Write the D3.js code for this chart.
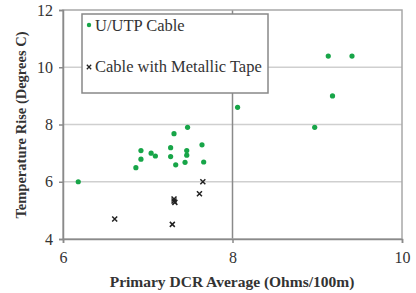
<!DOCTYPE html>
<html>
<head>
<meta charset="utf-8">
<script src="https://cdn.jsdelivr.net/npm/d3@7"></script>
<style>
  body { margin: 0; background: #fff; }
  svg text { font-family: "Liberation Serif", "Times New Roman", serif; }
</style>
</head>
<body>
<div id="chart"></div>
<script>
// data
var utpX = [6.18, 6.86, 6.92, 6.92, 7.04, 7.09, 7.27, 7.27, 7.31, 7.33, 7.44, 7.46, 7.46, 7.47, 7.64, 7.66, 8.06, 8.97, 9.13, 9.18, 9.41];
var utpY = [6.0, 6.49, 6.79, 7.09, 7.0, 6.9, 7.19, 6.88, 7.68, 6.59, 6.68, 6.93, 7.09, 7.9, 7.29, 6.69, 8.6, 7.9, 10.39, 9.0, 10.39];
var tapeX = [6.61, 7.29, 7.31, 7.31, 7.32, 7.61, 7.65];
var tapeY = [4.7, 4.51, 5.4, 5.33, 5.28, 5.58, 6.0];
var xTicks = [6, 8, 10];
var yTicks = [4, 6, 8, 10, 12];
var seriesNames = ["U/UTP Cable", "Cable with Metallic Tape"];

var width = 416, height = 293,
    margin = {top: 10, right: 14, bottom: 54, left: 63};

var svg = d3.select("#chart").append("svg")
  .attr("width", width)
  .attr("height", height);

var xScale = d3.scaleLinear().domain([6, 10]).range([margin.left, width - margin.right]);
var yScale = d3.scaleLinear().domain([4, 12]).range([height - margin.bottom, margin.top]);

// horizontal gridlines
svg.selectAll(".hgrid")
  .data(yTicks.filter(function (d) { return d > 4 && d < 12; }))
  .enter().append("line")
  .attr("x1", xScale(6)).attr("x2", xScale(10))
  .attr("y1", function (d) { return yScale(d); })
  .attr("y2", function (d) { return yScale(d); })
  .attr("stroke", "#cfcfcf").attr("stroke-width", 1.5);

// vertical gridline at 8
svg.append("line")
  .attr("x1", xScale(8)).attr("x2", xScale(8))
  .attr("y1", yScale(12)).attr("y2", yScale(4))
  .attr("stroke", "#8a8a8a").attr("stroke-width", 1.5);

// plot box
svg.append("rect")
  .attr("x", xScale(6)).attr("y", yScale(12))
  .attr("width", xScale(10) - xScale(6))
  .attr("height", yScale(4) - yScale(12))
  .attr("fill", "none").attr("stroke", "#a8a8a8").attr("stroke-width", 1.5);

// axes
var yAxis = svg.append("g")
  .attr("transform", "translate(" + margin.left + ",0)")
  .call(d3.axisLeft(yScale).tickValues(yTicks).tickFormat(d3.format("d")).tickSize(4).tickPadding(6));
var xAxis = svg.append("g")
  .attr("transform", "translate(0," + (height - margin.bottom) + ")")
  .call(d3.axisBottom(xScale).tickValues(xTicks).tickFormat(d3.format("d")).tickSize(4).tickPadding(9));

[xAxis, yAxis].forEach(function (a) {
  a.attr("font-family", null);
  a.select(".domain").attr("stroke", "#8a8a8a").attr("stroke-width", 1.5);
  a.selectAll(".tick line").attr("stroke", "#8a8a8a").attr("stroke-width", 1.5);
  a.selectAll(".tick text")
    .attr("fill", "#333")
    .style("font-size", "16px");
});

// axis titles
svg.append("text")
  .attr("x", 232).attr("y", 287)
  .attr("text-anchor", "middle")
  .attr("font-weight", "bold").attr("font-size", "15.5px").attr("fill", "#333")
  .text("Primary DCR Average (Ohms/100m)");

svg.append("text")
  .attr("transform", "translate(26," + 125 + ") rotate(-90)")
  .attr("text-anchor", "middle")
  .attr("font-weight", "bold").attr("font-size", "14.5px").attr("fill", "#333")
  .text("Temperature Rise (Degrees C)");

// points
var green = "#17a548";
svg.selectAll(".utp")
  .data(utpX.map(function (x, i) { return [x, utpY[i]]; }))
  .enter().append("circle")
  .attr("cx", function (d) { return xScale(d[0]); })
  .attr("cy", function (d) { return yScale(d[1]); })
  .attr("r", 2.6)
  .attr("fill", green);

var cross = d3.symbol().type(d3.symbolX).size(18);
svg.selectAll(".tape")
  .data(tapeX.map(function (x, i) { return [x, tapeY[i]]; }))
  .enter().append("path")
  .attr("transform", function (d) { return "translate(" + xScale(d[0]) + "," + yScale(d[1]) + ")"; })
  .attr("d", cross)
  .attr("fill", "none").attr("stroke", "#222").attr("stroke-width", 1.5);

// legend
var legend = svg.append("g");
legend.append("rect")
  .attr("x", 82).attr("y", 14).attr("width", 186).attr("height", 79)
  .attr("fill", "#fff").attr("stroke", "#888").attr("stroke-width", 1.5);
legend.append("circle").attr("cx", 89).attr("cy", 25).attr("r", 2.2).attr("fill", green);
legend.append("path")
  .attr("transform", "translate(89,67)")
  .attr("d", d3.symbol().type(d3.symbolX).size(14))
  .attr("stroke", "#222").attr("stroke-width", 1.3).attr("fill", "none");
legend.selectAll(".lt")
  .data(seriesNames)
  .enter().append("text")
  .attr("x", 95)
  .attr("y", function (d, i) { return i === 0 ? 31 : 72; })
  .attr("font-size", "16.5px").attr("fill", "#333")
  .text(function (d) { return d; });
</script>
</body>
</html>
